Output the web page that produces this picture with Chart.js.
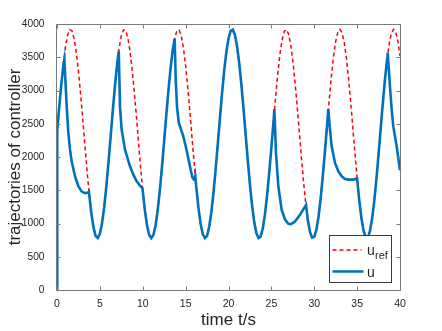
<!DOCTYPE html>
<html>
<head>
<meta charset="utf-8">
<script src="https://cdn.jsdelivr.net/npm/chart.js@4.4.1/dist/chart.umd.min.js"></script>
<style>
  html, body { margin: 0; padding: 0; background: #fff; }
  #wrap { width: 442px; height: 331px; }
</style>
</head>
<body>
<div id="wrap"><canvas id="c" width="442" height="331"></canvas></div>
<script>
// reference signal u_ref, sampled every 0.25 s
const refTime = [
  0, 0.25, 0.5, 0.75, 1, 1.25, 1.5, 1.75, 2, 2.25, 2.5, 2.75, 3, 3.25, 3.5, 3.75,
  4, 4.25, 4.5, 4.75, 5, 5.25, 5.5, 5.75, 6, 6.25, 6.5, 6.75, 7, 7.25, 7.5, 7.75,
  8, 8.25, 8.5, 8.75, 9, 9.25, 9.5, 9.75, 10, 10.25, 10.5, 10.75, 11, 11.25, 11.5, 11.75,
  12, 12.25, 12.5, 12.75, 13, 13.25, 13.5, 13.75, 14, 14.25, 14.5, 14.75, 15, 15.25, 15.5, 15.75,
  16, 16.25, 16.5, 16.75, 17, 17.25, 17.5, 17.75, 18, 18.25, 18.5, 18.75, 19, 19.25, 19.5, 19.75,
  20, 20.25, 20.5, 20.75, 21, 21.25, 21.5, 21.75, 22, 22.25, 22.5, 22.75, 23, 23.25, 23.5, 23.75,
  24, 24.25, 24.5, 24.75, 25, 25.25, 25.5, 25.75, 26, 26.25, 26.5, 26.75, 27, 27.25, 27.5, 27.75,
  28, 28.25, 28.5, 28.75, 29, 29.25, 29.5, 29.75, 30, 30.25, 30.5, 30.75, 31, 31.25, 31.5, 31.75,
  32, 32.25, 32.5, 32.75, 33, 33.25, 33.5, 33.75, 34, 34.25, 34.5, 34.75, 35, 35.25, 35.5, 35.75,
  36, 36.25, 36.5, 36.75, 37, 37.25, 37.5, 37.75, 38, 38.25, 38.5, 38.75, 39, 39.25, 39.5, 39.75,
  40
];
const refValue = [
  2350, 2738, 3103, 3420, 3671, 3840, 3916, 3895, 3778, 3572, 3290, 2949, 2572, 2180, 1799, 1453,
  1162, 945, 815, 781, 845, 1002, 1242, 1552, 1911, 2298, 2688, 3057, 3381, 3642, 3823, 3912,
  3903, 3798, 3604, 3331, 2997, 2624, 2232, 1848, 1496, 1197, 969, 827, 780, 830, 975, 1206,
  1508, 1862, 2246, 2637, 3010, 3342, 3612, 3804, 3905, 3910, 3818, 3634, 3371, 3045, 2674, 2284,
  1898, 1539, 1232, 993, 841, 781, 814, 952, 1171, 1465, 1812, 2194, 2585, 2962, 3301, 3580,
  3783, 3897, 3915, 3835, 3664, 3411, 3091, 2725, 2336, 1948, 1584, 1269, 1021, 857, 783, 806,
  928, 1136, 1421, 1764, 2142, 2534, 2914, 3259, 3547, 3761, 3888, 3918, 3852, 3692, 3449, 3137,
  2775, 2388, 1999, 1629, 1308, 1051, 873, 787, 799, 906, 1102, 1380, 1716, 2091, 2482, 2865,
  3216, 3513, 3738, 3876, 3920, 3866, 3719, 3485, 3181, 2825, 2440, 2050, 1678, 1348, 1080, 891,
  793, 792, 888, 1075, 1340, 1669, 2040, 2430, 2815, 3172, 3477, 3712, 3863, 3920, 3878, 3742,
  3520
];

// controller output u
const uTime = [
  0, 0.03, 0.25, 0.5, 0.75, 0.86, 1.0, 1.13, 1.32, 1.52, 1.71, 2.1, 2.49, 2.88, 3.27, 3.6, 3.72,
  4, 4.25, 4.5, 4.75, 5, 5.25, 5.5, 5.75, 6, 6.25, 6.5, 6.75, 7, 7.2,
  7.35, 7.54, 7.93, 8.51, 8.9, 9.29, 9.68, 9.97,
  10.25, 10.5, 10.75, 11, 11.25, 11.5, 11.75, 12, 12.25, 12.5, 12.75, 13, 13.25, 13.5, 13.72,
  13.85, 14.0, 14.2, 14.45, 14.7, 15.0, 15.3, 15.6, 15.8, 15.95, 16.08, 16.12,
  16.25, 16.5, 16.75, 17, 17.25, 17.5, 17.75, 18, 18.25, 18.5, 18.75, 19, 19.25, 19.5, 19.75,
  20, 20.25, 20.5, 20.75, 21, 21.25, 21.5, 21.75, 22, 22.25, 22.5, 22.75, 23, 23.25, 23.5, 23.75,
  24, 24.25, 24.5, 24.75, 25, 25.25, 25.35,
  25.54, 25.81, 26.2, 26.59, 26.98, 27.3, 27.75, 28.34, 28.92, 29.04,
  29.25, 29.5, 29.75, 30, 30.25, 30.5, 30.75, 31, 31.25, 31.5, 31.64,
  31.84, 32.03, 32.42, 32.81, 33.2, 33.59, 33.97, 34.5, 35.0,
  35.25, 35.5, 35.75, 36, 36.25, 36.5, 36.75, 37, 37.25, 37.5, 37.75, 38, 38.25, 38.5, 38.57,
  38.83, 39.03, 39.22, 39.61, 40
];
const uValue = [
  0, 2400, 2740, 3090, 3390, 3470, 3100, 2760, 2370, 2110, 1935, 1710, 1560, 1480, 1455, 1465, 1480,
  1162, 945, 815, 781, 845, 1002, 1242, 1552, 1911, 2298, 2688, 3057, 3381, 3595,
  2750, 2410, 2110, 1860, 1735, 1635, 1570, 1530,
  1197, 969, 827, 780, 830, 975, 1206, 1508, 1862, 2246, 2637, 3010, 3342, 3612, 3780,
  3150, 2750, 2520, 2420, 2320, 2170, 1990, 1800, 1690, 1665, 1680, 1710,
  1539, 1232, 993, 841, 781, 814, 952, 1171, 1465, 1812, 2194, 2585, 2962, 3301, 3580,
  3783, 3897, 3915, 3835, 3664, 3411, 3091, 2725, 2336, 1948, 1584, 1269, 1021, 857, 783, 806,
  928, 1136, 1421, 1764, 2142, 2534, 2720,
  2060, 1560, 1205, 1060, 995, 990, 1030, 1130, 1255, 1280,
  1051, 873, 787, 799, 906, 1102, 1380, 1716, 2091, 2482, 2720,
  2410, 2160, 1910, 1785, 1710, 1670, 1660, 1660, 1675,
  1348, 1080, 891, 793, 792, 888, 1075, 1340, 1669, 2040, 2430, 2815, 3172, 3477, 3570,
  3060, 2710, 2460, 2160, 1800
];

const xTicks = [0, 5, 10, 15, 20, 25, 30, 35, 40];
const yTicks = [0, 500, 1000, 1500, 2000, 2500, 3000, 3500, 4000];

const FONT = '"Liberation Sans", Arial, Helvetica, sans-serif';
const TEXT = '#262626';
const AXIS = '#7a7a7a';

// MATLAB style box with inward ticks
const axesBox = {
  id: 'axesBox',
  afterDatasetsDraw(chart) {
    const { ctx, chartArea: a, scales: { x, y } } = chart;
    const L = Math.round(a.left) - 0.5, R = Math.round(a.right) + 0.5;
    const T = Math.round(a.top) + 0.5, B = Math.round(a.bottom) + 0.5;
    ctx.save();
    ctx.strokeStyle = AXIS;
    ctx.lineWidth = 1;
    ctx.beginPath();
    ctx.rect(L, T, R - L, B - T);
    xTicks.forEach(v => {
      const px = Math.round(x.getPixelForValue(v)) + 0.5;
      ctx.moveTo(px, B); ctx.lineTo(px, B - 4);
      ctx.moveTo(px, T); ctx.lineTo(px, T + 4);
    });
    yTicks.forEach(v => {
      const py = Math.round(y.getPixelForValue(v)) + 0.5;
      ctx.moveTo(L, py); ctx.lineTo(L + 4, py);
      ctx.moveTo(R, py); ctx.lineTo(R - 4, py);
    });
    ctx.stroke();
    ctx.restore();
  },
  afterDraw(chart) {
    // legend with subscript text
    const { ctx, chartArea: a } = chart;
    const bx = Math.round(a.right - 71) + 0.5, by = Math.round(a.bottom - 55) + 0.5;
    const bw = 62, bh = 47;
    ctx.save();
    ctx.fillStyle = '#fff';
    ctx.fillRect(bx, by, bw, bh);
    ctx.strokeStyle = '#3c3c3c';
    ctx.lineWidth = 1;
    ctx.strokeRect(bx, by, bw, bh);

    ctx.beginPath();
    ctx.setLineDash([4, 3]);
    ctx.strokeStyle = '#ff0000';
    ctx.lineWidth = 1.5;
    ctx.moveTo(bx + 3, by + 14.5);
    ctx.lineTo(bx + 32, by + 14.5);
    ctx.stroke();

    ctx.beginPath();
    ctx.setLineDash([]);
    ctx.strokeStyle = '#0072BD';
    ctx.lineWidth = 2.5;
    ctx.moveTo(bx + 3, by + 36);
    ctx.lineTo(bx + 34, by + 36);
    ctx.stroke();

    ctx.fillStyle = TEXT;
    ctx.textBaseline = 'alphabetic';
    ctx.textAlign = 'left';
    ctx.font = '14px ' + FONT;
    ctx.fillText('u', bx + 37.5, by + 19);
    ctx.fillText('u', bx + 37.5, by + 41.3);
    ctx.font = '11px ' + FONT;
    ctx.fillText('ref', bx + 45.5, by + 23);
    ctx.restore();
  }
};

const ctx = document.getElementById('c').getContext('2d');
new Chart(ctx, {
  type: 'line',
  data: {
    datasets: [
      {
        label: 'u_ref',
        data: refTime.map((t, i) => ({ x: t, y: refValue[i] })),
        borderColor: '#ff0000',
        borderWidth: 1.5,
        borderDash: [4, 3],
        pointRadius: 0,
        tension: 0,
        fill: false,
        order: 2
      },
      {
        label: 'u',
        data: uTime.map((t, i) => ({ x: t, y: uValue[i] })),
        borderColor: '#0072BD',
        borderWidth: 2.6,
        pointRadius: 0,
        tension: 0,
        fill: false,
        clip: 4,
        order: 1
      }
    ]
  },
  options: {
    responsive: false,
    animation: false,
    layout: { padding: { left: 0, right: 42, top: 24, bottom: 0 } },
    plugins: { legend: { display: false }, tooltip: { enabled: false } },
    scales: {
      x: {
        type: 'linear',
        min: 0,
        max: 40,
        afterFit: s => { s.height = 41; },
        afterBuildTicks: s => { s.ticks = xTicks.map(v => ({ value: v })); },
        grid: { display: false },
        border: { display: false },
        ticks: {
          padding: 0,
          color: TEXT,
          font: { family: FONT, size: 10.5 },
          callback: v => String(v)
        },
        title: {
          display: true,
          text: 'time t/s',
          color: TEXT,
          padding: { top: 0, bottom: 0 },
          font: { family: FONT, size: 17 }
        }
      },
      y: {
        type: 'linear',
        min: 0,
        max: 4000,
        afterFit: s => { s.width = 57; },
        afterBuildTicks: s => { s.ticks = yTicks.map(v => ({ value: v })); },
        grid: { display: false },
        border: { display: false },
        ticks: {
          padding: 4.5,
          color: TEXT,
          font: { family: FONT, size: 10.2 },
          callback: v => String(v)
        },
        title: {
          display: true,
          text: 'trajectories of controller',
          color: TEXT,
          padding: { top: 5, bottom: 0 },
          font: { family: FONT, size: 17 }
        }
      }
    }
  },
  plugins: [axesBox]
});
</script>
</body>
</html>
